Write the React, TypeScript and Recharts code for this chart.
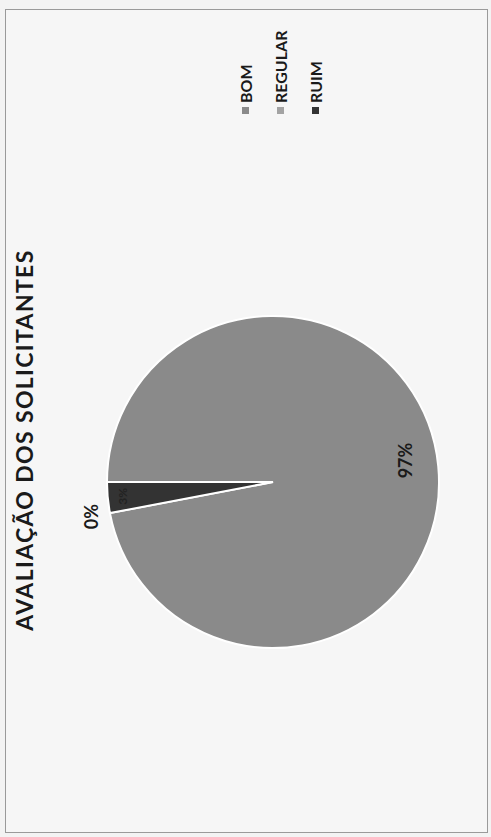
import React from "react";
import { PieChart, Pie, Cell, Legend } from "recharts";

const categories = ["BOM", "REGULAR", "RUIM"];
const values = [97, 0, 3];
const colors = ["#8a8a8a", "#a3a3a3", "#333333"];
const title = "AVALIAÇÃO DOS SOLICITANTES";

const data = categories.map((name, i) => ({ name, value: values[i] }));

const RAD = Math.PI / 180;

const renderLabel = (props: any) => {
  const { cx, cy, midAngle, outerRadius, percent, index } = props;
  let r = outerRadius * 0.8;
  let size = 18;
  let color = "#1a1a1a";
  let shift = 0;
  if (index === 0) {
    shift = 9;
  } else if (index === 1) {
    r = outerRadius + 19;
  } else if (index === 2) {
    r = outerRadius * 0.91;
    size = 12;
    color = "#222";
  }
  const x = cx + r * Math.cos(-midAngle * RAD) + shift;
  const y = cy + r * Math.sin(-midAngle * RAD);
  return (
    <text
      x={x}
      y={y}
      fill={color}
      fontSize={size}
      fontWeight={700}
      fontFamily="Lato, 'Open Sans', sans-serif"
      textAnchor="middle"
      dominantBaseline="central"
    >
      {`${Math.round(percent * 100)}%`}
    </text>
  );
};

const renderLegend = (props: any) => {
  const { payload } = props;
  return (
    <div style={{ fontFamily: "Lato, 'Open Sans', sans-serif" }}>
      {payload.map((entry: any, i: number) => (
        <div
          key={i}
          style={{
            display: "flex",
            alignItems: "center",
            height: 35,
            fontSize: 16,
            fontWeight: 700,
            color: "#1a1a1a",
          }}
        >
          <span
            style={{
              display: "inline-block",
              width: 7,
              height: 7,
              background: entry.color,
              marginRight: 4,
            }}
          />
          {entry.value}
        </div>
      ))}
    </div>
  );
};

export default function App() {
  return (
    <div
      style={{
        position: "absolute",
        left: 0,
        top: 0,
        width: 491,
        height: 837,
        overflow: "hidden",
        background: "#f3f3f3",
      }}
    >
      <div
        style={{
          position: "absolute",
          left: 0,
          top: 0,
          width: 837,
          height: 491,
          transformOrigin: "0 0",
          transform: "translateY(837px) rotate(-90deg)",
        }}
      >
        <div
          style={{
            position: "absolute",
            left: 4,
            top: 5,
            width: 824,
            height: 483,
            border: "1px solid #9a9a9a",
            background: "#f6f6f6",
            boxSizing: "border-box",
          }}
        />
        <div
          style={{
            position: "absolute",
            left: 0,
            width: 794,
            top: 10,
            textAlign: "center",
            fontFamily: "Lato, 'Open Sans', sans-serif",
            fontWeight: 700,
            fontSize: 23,
            letterSpacing: "1.35px",
            lineHeight: "28px",
            color: "#1a1a1a",
            whiteSpace: "nowrap",
          }}
        >
          {title}
        </div>
        <div style={{ position: "absolute", left: 0, top: 0 }}>
          <PieChart width={837} height={491} margin={{ top: 0, right: 0, bottom: 0, left: 0 }}>
            <Pie
              data={data}
              dataKey="value"
              nameKey="name"
              cx={355}
              cy={273}
              outerRadius={166}
              startAngle={90}
              endAngle={-270}
              stroke="#ffffff"
              strokeWidth={2}
              labelLine={false}
              label={renderLabel}
              isAnimationActive={false}
            >
              {data.map((d, i) => (
                <Cell key={d.name} fill={colors[i]} />
              ))}
            </Pie>
            <Legend
              layout="vertical"
              verticalAlign="top"
              align="right"
              content={renderLegend}
              wrapperStyle={{ position: "absolute", left: 723, top: 228, width: 110 }}
            />
          </PieChart>
        </div>
      </div>
    </div>
  );
}
